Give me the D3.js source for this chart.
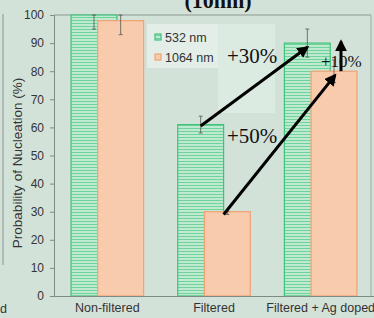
<!DOCTYPE html>
<html><head><meta charset="utf-8">
<script src="https://cdn.jsdelivr.net/npm/d3@7"></script>
<style>
html,body{margin:0;padding:0;background:#d3e2d9;}
svg{display:block;}
</style></head>
<body>
<svg id="chart" width="374" height="318"></svg>
<script>
const categories = ["Non-filtered", "Filtered", "Filtered + Ag doped"];
const seriesNames = ["532 nm", "1064 nm"];
const values532 = [100, 61, 90];
const values1064 = [98, 30, 80];
const err532 = [[95, 100], [58, 64], [85, 95]];
const err1064 = [[93, 100], [29, 30], [76, 84]];
const yTicks = [0, 10, 20, 30, 40, 50, 60, 70, 80, 90, 100];
const annotations = ["+30%", "+50%", "+10%"];

const svg = d3.select("#chart");
const W = 374, H = 318;
const x = d3.scaleBand().domain(categories).range([54, 374]).padding(0);
const y = d3.scaleLinear().domain([0, 100]).range([296, 15]);
const bw = x.bandwidth();
const gx = c => x(c) + bw * 0.16;
const ox = c => x(c) + bw * 0.41;
const barW = bw * 0.43;

const defs = svg.append("defs");
const pat = defs.append("pattern").attr("id", "stripes").attr("patternUnits", "userSpaceOnUse")
  .attr("width", 6).attr("height", 3);
pat.append("rect").attr("width", 6).attr("height", 3).attr("fill", "#bfe9d0");
pat.append("rect").attr("y", 2).attr("width", 6).attr("height", 1).attr("fill", "#6fd39a");

// background pieces
svg.append("rect").attr("width", W).attr("height", H).attr("fill", "#d3e2d9");
// left edge remnants of neighbouring figure
svg.append("line").attr("x1", 3).attr("x2", 3).attr("y1", 14).attr("y2", 265).attr("stroke", "#8a948e").attr("stroke-width", 1);
svg.append("text").attr("x", 0).attr("y", 313).attr("font-family", "Liberation Sans, Arial").attr("font-size", 12.5).attr("fill", "#333").text("d");

// lighter highlight region near legend
svg.append("rect").attr("x", 147).attr("y", 24).attr("width", 71).attr("height", 44).attr("fill", "#e2eee7");
svg.append("rect").attr("x", 218).attr("y", 24).attr("width", 57).attr("height", 89).attr("fill", "#dcebe2");

// title remnant (cut by the top edge, as in the source figure)
svg.append("text").attr("x", 218).attr("y", 8).attr("text-anchor", "middle")
  .attr("font-family", "Liberation Serif, Times New Roman").attr("font-weight", "bold").attr("font-size", 22)
  .attr("fill", "#111").text("(10nm)");

// plot frame top and right
svg.append("line").attr("x1", 54).attr("x2", 371).attr("y1", y(100)).attr("y2", y(100)).attr("stroke", "#8d9892");
svg.append("line").attr("x1", 371).attr("x2", 371).attr("y1", y(100)).attr("y2", y(0)).attr("stroke", "#a0aaa4");

// bars 532 (behind)
svg.append("g").selectAll("rect").data(categories).join("rect")
  .attr("x", c => gx(c)).attr("width", barW)
  .attr("y", (c, i) => y(values532[i])).attr("height", (c, i) => y(0) - y(values532[i]))
  .attr("fill", "url(#stripes)").attr("stroke", "#3fc27a").attr("stroke-width", 1.2);
// bars 1064
svg.append("g").selectAll("rect").data(categories).join("rect")
  .attr("x", c => ox(c)).attr("width", barW)
  .attr("y", (c, i) => y(values1064[i])).attr("height", (c, i) => y(0) - y(values1064[i]))
  .attr("fill", "#f7cbac").attr("stroke", "#f2a273").attr("stroke-width", 1.2);

// error bars
function drawErr(data, xf) {
  const g = svg.append("g").attr("stroke", "#555").attr("stroke-width", 0.8);
  data.forEach((e, i) => {
    const cx = xf(categories[i]) + barW / 2;
    g.append("line").attr("x1", cx).attr("x2", cx).attr("y1", y(e[0])).attr("y2", y(e[1]));
    g.append("line").attr("x1", cx - 2).attr("x2", cx + 2).attr("y1", y(e[0])).attr("y2", y(e[0]));
    g.append("line").attr("x1", cx - 2).attr("x2", cx + 2).attr("y1", y(e[1])).attr("y2", y(e[1]));
  });
}
drawErr(err532, gx);
drawErr(err1064, ox);

// axes
const yAxis = d3.axisLeft(y).tickValues(yTicks).tickSize(4).tickPadding(6);
const ya = svg.append("g").attr("transform", "translate(54,0)").call(yAxis);
ya.selectAll("text").attr("font-family", "Liberation Sans, Arial").attr("font-size", 12).attr("fill", "#333");
ya.selectAll("line,path").attr("stroke", "#7f8a84");
const xAxis = d3.axisBottom(x).tickSize(0).tickPadding(7);
const xa = svg.append("g").attr("transform", `translate(0,${y(0)})`).call(xAxis);
xa.selectAll("text").attr("font-family", "Liberation Sans, Arial").attr("font-size", 12.5).attr("fill", "#333");
xa.selectAll("path").attr("stroke", "#7f8a84").attr("stroke-width", 1.2);

svg.append("text").attr("transform", `translate(22,163) rotate(-90)`)
  .attr("text-anchor", "middle").attr("font-family", "Liberation Sans, Arial").attr("font-size", 13.5)
  .attr("fill", "#333").text("Probability of Nucleation (%)");

// legend
const leg = svg.append("g").attr("font-family", "Liberation Sans, Arial").attr("font-size", 12.5).attr("fill", "#333");
seriesNames.forEach((s, i) => {
  const ly = 37 + i * 20;
  leg.append("rect").attr("x", 155).attr("y", ly - 3).attr("width", 6).attr("height", 6)
    .attr("fill", i === 0 ? "url(#stripes)" : "#f7cbac").attr("stroke", i === 0 ? "#3fc27a" : "#f2a273").attr("stroke-width", 1.2);
  leg.append("text").attr("x", 165).attr("y", ly + 4.5).text(s);
});

// arrows
defs.append("marker").attr("id", "ah").attr("viewBox", "0 0 10 10").attr("refX", 8).attr("refY", 5)
  .attr("markerWidth", 4).attr("markerHeight", 4).attr("orient", "auto")
  .append("path").attr("d", "M0,0 L10,5 L0,10 z").attr("fill", "#000");
const ag = svg.append("g").attr("stroke", "#000").attr("stroke-width", 3).attr("marker-end", "url(#ah)");
ag.append("line").attr("x1", gx(categories[1]) + barW / 2).attr("y1", y(60.5))
  .attr("x2", gx(categories[2]) + barW / 2).attr("y2", y(88.5));
ag.append("line").attr("x1", gx(categories[1]) + barW).attr("y1", y(29))
  .attr("x2", ox(categories[2]) + barW / 2 + 1).attr("y2", y(78.5));
ag.append("line").attr("x1", ox(categories[2]) + barW / 2 + 7).attr("y1", y(80))
  .attr("x2", ox(categories[2]) + barW / 2 + 7).attr("y2", y(90.5));

const at = svg.append("g").attr("font-family", "Liberation Serif, Times New Roman").attr("fill", "#111");
at.append("text").attr("x", 227).attr("y", 63).attr("font-size", 21).text(annotations[0]);
at.append("text").attr("x", 227).attr("y", 143).attr("font-size", 21).text(annotations[1]);
at.append("text").attr("x", 321).attr("y", 67).attr("font-size", 17).text(annotations[2]);
</script>
</body></html>
